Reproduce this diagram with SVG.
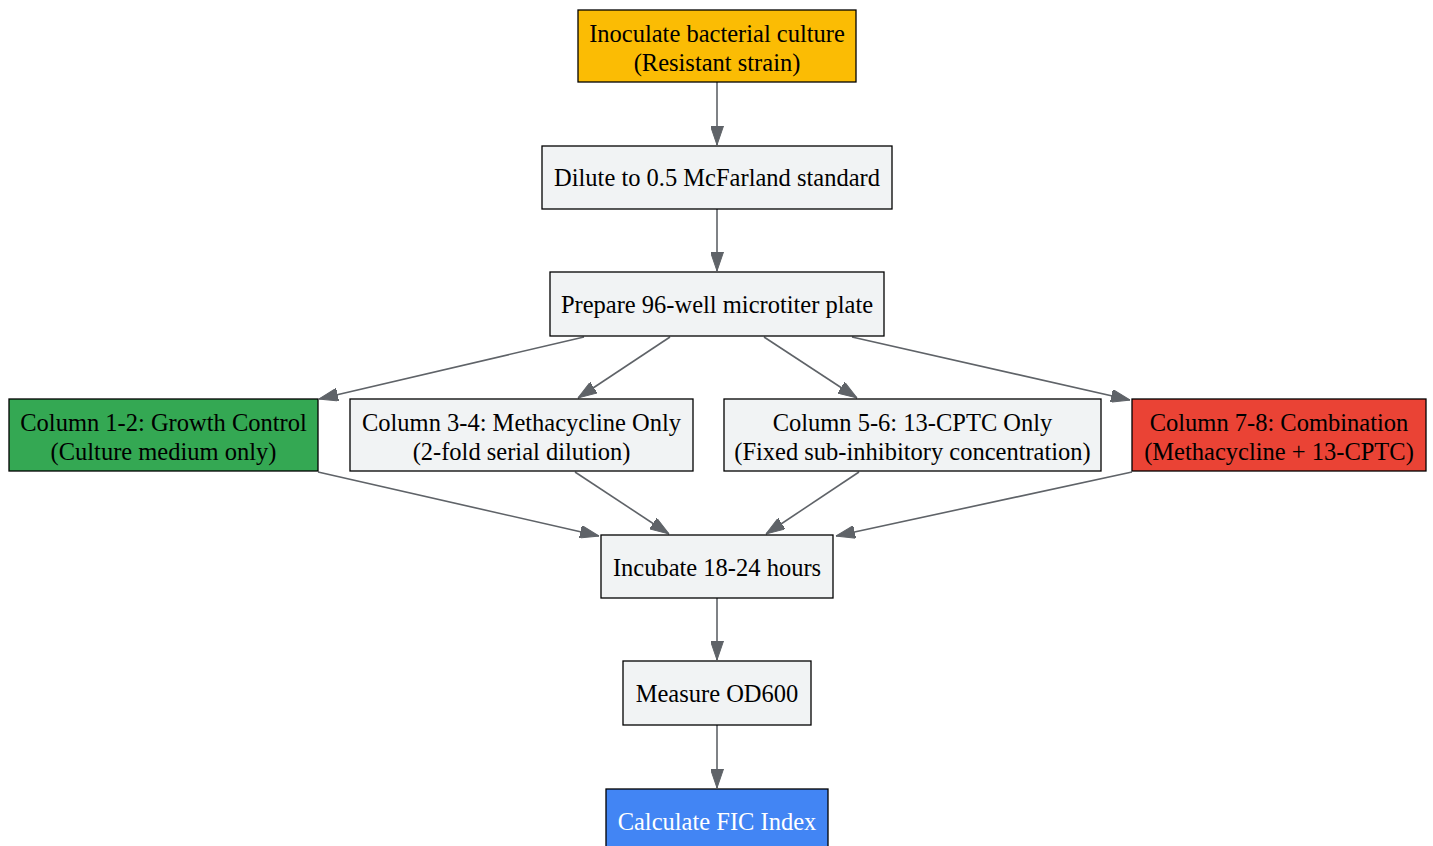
<svg xmlns="http://www.w3.org/2000/svg" width="1433" height="846" viewBox="0 0 1433 846">
<defs>
<marker id="ah" viewBox="0 0 19 13" refX="19" refY="6.5" markerWidth="19" markerHeight="13" markerUnits="userSpaceOnUse" orient="auto">
<path d="M0,0 L19,6.5 L0,13 Z" fill="#5f6368" stroke="#5f6368"/>
</marker>
<style>
.n{stroke:#000;stroke-width:1.3}
.g{fill:#f1f3f4}
text{font-family:"Liberation Serif","Times New Roman",serif;font-size:24.5px;text-anchor:middle;fill:#000}
.e{stroke:#5f6368;stroke-width:1.6;fill:none;marker-end:url(#ah)}
</style>
</defs>
<rect width="1433" height="846" fill="#fff"/>
<g id="edges">
<path class="e" d="M717,82 L717,145"/>
<path class="e" d="M717,209 L717,271"/>
<path class="e" d="M584,337 L319,399"/>
<path class="e" d="M670,337 L578,398"/>
<path class="e" d="M764,337 L857,398"/>
<path class="e" d="M852,337 L1130,400"/>
<path class="e" d="M318,472 L599,536"/>
<path class="e" d="M575,472 L669,534"/>
<path class="e" d="M859,472 L766,534"/>
<path class="e" d="M1132,472 L836,536"/>
<path class="e" d="M717,598 L717,660"/>
<path class="e" d="M717,725 L717,788"/>
</g>
<g id="inoculate"><rect class="n" x="578" y="10" width="278" height="72" fill="#fbbc04"/><text x="717" y="42">Inoculate bacterial culture</text><text x="717" y="71">(Resistant strain)</text></g>
<g id="dilute"><rect class="n g" x="542" y="146" width="350" height="63"/><text x="717" y="186">Dilute to 0.5 McFarland standard</text></g>
<g id="prepare"><rect class="n g" x="550" y="272" width="334" height="64"/><text x="717" y="313">Prepare 96-well microtiter plate</text></g>
<g id="col12"><rect class="n" x="9" y="399" width="309" height="72" fill="#34a853"/><text x="163.5" y="431">Column 1-2: Growth Control</text><text x="163.5" y="460">(Culture medium only)</text></g>
<g id="col34"><rect class="n g" x="350" y="399" width="343" height="72"/><text x="521.5" y="431">Column 3-4: Methacycline Only</text><text x="521.5" y="460">(2-fold serial dilution)</text></g>
<g id="col56"><rect class="n g" x="724" y="399" width="377" height="72"/><text x="912.5" y="431">Column 5-6: 13-CPTC Only</text><text x="912.5" y="460">(Fixed sub-inhibitory concentration)</text></g>
<g id="col78"><rect class="n" x="1132" y="399" width="294" height="72" fill="#ea4335"/><text x="1279" y="431">Column 7-8: Combination</text><text x="1279" y="460">(Methacycline + 13-CPTC)</text></g>
<g id="incubate"><rect class="n g" x="601" y="535" width="232" height="63"/><text x="717" y="576">Incubate 18-24 hours</text></g>
<g id="measure"><rect class="n g" x="623" y="661" width="188" height="64"/><text x="717" y="702">Measure OD600</text></g>
<g id="calc"><rect class="n" x="606" y="789" width="222" height="64" fill="#4285f4"/><text x="717" y="830" style="fill:#fff">Calculate FIC Index</text></g>
</svg>
